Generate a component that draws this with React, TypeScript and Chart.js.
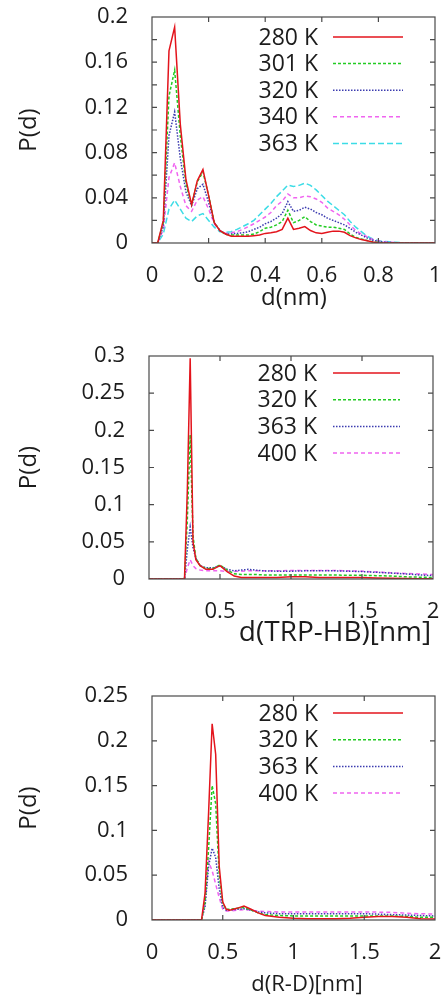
import React, { useEffect, useRef } from "react";
import { Chart, registerables } from "chart.js";

Chart.register(...registerables);

// ---------- Panel 1: d(nm) ----------
const xs1 = [0, 0.02, 0.04, 0.06, 0.08, 0.1, 0.12, 0.14, 0.16, 0.18, 0.2, 0.22, 0.24, 0.26, 0.28, 0.3, 0.32, 0.34, 0.36, 0.38, 0.4, 0.42, 0.44, 0.46, 0.48, 0.5, 0.52, 0.54, 0.56, 0.58, 0.6, 0.62, 0.64, 0.66, 0.68, 0.7, 0.72, 0.74, 0.76, 0.78, 0.8, 0.82, 0.84, 0.86, 0.88, 0.9, 0.92, 0.94, 0.96, 0.98, 1];
const p1_280 = [0, 0, 0.02, 0.17, 0.191, 0.105, 0.056, 0.034, 0.055, 0.065, 0.042, 0.018, 0.011, 0.008, 0.006, 0.006, 0.006, 0.006, 0.0065, 0.007, 0.0085, 0.009, 0.01, 0.012, 0.022, 0.012, 0.013, 0.0145, 0.011, 0.009, 0.0085, 0.0095, 0.0105, 0.0105, 0.0095, 0.0065, 0.0045, 0.003, 0.002, 0.0008, 0.0003, 0, 0, 0, 0, 0, 0, 0, 0, 0, 0];
const p1_301 = [0, 0, 0.018, 0.13, 0.153, 0.095, 0.052, 0.034, 0.054, 0.063, 0.042, 0.018, 0.011, 0.0075, 0.007, 0.007, 0.007, 0.007, 0.008, 0.01, 0.013, 0.014, 0.016, 0.019, 0.029, 0.018, 0.02, 0.0233, 0.019, 0.016, 0.015, 0.014, 0.014, 0.013, 0.012, 0.008, 0.005, 0.0035, 0.0022, 0.001, 0.0005, 0.0002, 0, 0, 0, 0, 0, 0, 0, 0, 0];
const p1_320 = [0, 0, 0.015, 0.095, 0.116, 0.075, 0.045, 0.033, 0.048, 0.052, 0.036, 0.018, 0.011, 0.008, 0.008, 0.0085, 0.009, 0.01, 0.012, 0.014, 0.017, 0.019, 0.022, 0.026, 0.0366, 0.028, 0.029, 0.0316, 0.03, 0.027, 0.025, 0.022, 0.02, 0.018, 0.016, 0.013, 0.0095, 0.007, 0.0045, 0.0025, 0.0015, 0.0008, 0.0004, 0.0002, 0, 0, 0, 0, 0, 0, 0];
const p1_340 = [0, 0, 0.012, 0.058, 0.071, 0.05, 0.033, 0.028, 0.038, 0.041, 0.03, 0.017, 0.011, 0.0085, 0.009, 0.01, 0.012, 0.0145, 0.017, 0.02, 0.023, 0.027, 0.033, 0.037, 0.0434, 0.04, 0.04, 0.0415, 0.041, 0.039, 0.036, 0.031, 0.028, 0.025, 0.021, 0.016, 0.011, 0.008, 0.0055, 0.003, 0.002, 0.0012, 0.0008, 0.0004, 0.0002, 0, 0, 0, 0, 0, 0];
const p1_363 = [0, 0, 0.008, 0.03, 0.038, 0.03, 0.022, 0.019, 0.024, 0.026, 0.02, 0.014, 0.01, 0.0095, 0.01, 0.012, 0.0145, 0.017, 0.02, 0.025, 0.03, 0.035, 0.041, 0.046, 0.0513, 0.05, 0.051, 0.053, 0.051, 0.047, 0.042, 0.037, 0.033, 0.029, 0.025, 0.019, 0.014, 0.01, 0.006, 0.0035, 0.002, 0.0013, 0.001, 0.0006, 0.0003, 0.0001, 0, 0, 0, 0, 0];
const labels1 = ["280 K", "301 K", "320 K", "340 K", "363 K"];

// ---------- Panel 2: d(TRP-HB)[nm] ----------
const xs2 = [0, 0.1, 0.2, 0.25, 0.27, 0.29, 0.31, 0.33, 0.36, 0.4, 0.45, 0.5, 0.55, 0.6, 0.65, 0.7, 0.75, 0.8, 0.9, 1.0, 1.1, 1.2, 1.3, 1.4, 1.5, 1.6, 1.7, 1.8, 1.9, 2.0];
const p2_280 = [0, 0, 0, 0, 0.12, 0.297, 0.05, 0.026, 0.018, 0.013, 0.013, 0.018, 0.01, 0.004, 0.002, 0.002, 0.002, 0.002, 0.002, 0.003, 0.003, 0.002, 0.002, 0.002, 0.002, 0.0015, 0.001, 0.0008, 0.0005, 0.0003];
const p2_320 = [0, 0, 0, 0, 0.08, 0.194, 0.058, 0.028, 0.018, 0.014, 0.014, 0.019, 0.012, 0.007, 0.006, 0.006, 0.006, 0.0055, 0.0055, 0.0055, 0.0055, 0.0055, 0.0055, 0.005, 0.005, 0.0045, 0.004, 0.003, 0.0025, 0.002];
const p2_363 = [0, 0, 0, 0, 0.04, 0.07, 0.042, 0.028, 0.018, 0.015, 0.015, 0.018, 0.013, 0.011, 0.012, 0.013, 0.012, 0.011, 0.0105, 0.0105, 0.011, 0.011, 0.011, 0.0105, 0.01, 0.009, 0.008, 0.007, 0.0055, 0.0045];
const p2_400 = [0, 0, 0, 0, 0.015, 0.026, 0.018, 0.014, 0.012, 0.011, 0.011, 0.011, 0.01, 0.01, 0.0105, 0.011, 0.011, 0.011, 0.011, 0.0115, 0.0115, 0.0115, 0.0115, 0.011, 0.0105, 0.0095, 0.0085, 0.0075, 0.0068, 0.006];
const labels2 = ["280 K", "320 K", "363 K", "400 K"];

// ---------- Panel 3: d(R-D)[nm] ----------
const xs3 = [0, 0.1, 0.2, 0.3, 0.35, 0.375, 0.4, 0.425, 0.45, 0.475, 0.5, 0.525, 0.55, 0.6, 0.65, 0.7, 0.75, 0.8, 0.9, 1.0, 1.1, 1.2, 1.3, 1.4, 1.5, 1.6, 1.7, 1.8, 1.9, 2.0];
const p3_280 = [0, 0, 0, 0, 0, 0.03, 0.12, 0.219, 0.185, 0.06, 0.02, 0.012, 0.011, 0.013, 0.0155, 0.012, 0.008, 0.005, 0.003, 0.002, 0.0015, 0.0015, 0.0015, 0.002, 0.003, 0.004, 0.004, 0.003, 0.0015, 0.001];
const p3_320 = [0, 0, 0, 0, 0, 0.02, 0.08, 0.15, 0.13, 0.05, 0.018, 0.012, 0.012, 0.013, 0.014, 0.011, 0.008, 0.006, 0.005, 0.0045, 0.0045, 0.0045, 0.0045, 0.0045, 0.0045, 0.0045, 0.0045, 0.004, 0.003, 0.003];
const p3_363 = [0, 0, 0, 0, 0, 0.015, 0.06, 0.08, 0.07, 0.035, 0.014, 0.011, 0.011, 0.012, 0.0125, 0.011, 0.009, 0.008, 0.007, 0.007, 0.007, 0.007, 0.007, 0.007, 0.007, 0.0065, 0.006, 0.0055, 0.005, 0.0045];
const p3_400 = [0, 0, 0, 0, 0, 0.02, 0.065, 0.055, 0.04, 0.025, 0.012, 0.01, 0.01, 0.011, 0.0115, 0.011, 0.01, 0.0095, 0.009, 0.009, 0.009, 0.009, 0.009, 0.009, 0.009, 0.0088, 0.0085, 0.0075, 0.007, 0.0065];
const labels3 = ["280 K", "320 K", "363 K", "400 K"];

// ---------- styles ----------
const FONT = '"Open Sans", "Noto Sans", sans-serif';
const TEXT = "#1c1c1c";
const STY = {
  red: { color: "#e3141c", dash: [] as number[] },
  green: { color: "#22cc22", dash: [3, 2] },
  blue: { color: "#3c3cb0", dash: [1.5, 1.5] },
  magenta: { color: "#f064f0", dash: [4, 3] },
  cyan: { color: "#3cdce6", dash: [6, 3] },
};

const fmt = (v: number) => String(Number(Number(v).toFixed(3)));

const boxPlugin = {
  id: "gnuBox",
  afterDraw(chart: any, _args: any, opts: any) {
    const { ctx, chartArea: a, scales } = chart;
    ctx.save();
    ctx.strokeStyle = "#4a4a4a";
    ctx.lineWidth = 1.2;
    ctx.setLineDash([]);
    ctx.strokeRect(a.left, a.top, a.right - a.left, a.bottom - a.top);
    const L = 5;
    ctx.beginPath();
    for (const t of scales.x.ticks) {
      const px = scales.x.getPixelForValue(t.value);
      if (px <= a.left + 1 || px >= a.right - 1) continue;
      ctx.moveTo(px, a.bottom);
      ctx.lineTo(px, a.bottom - L);
      ctx.moveTo(px, a.top);
      ctx.lineTo(px, a.top + L);
    }
    for (const t of scales.y.ticks) {
      const py = scales.y.getPixelForValue(t.value);
      if (py <= a.top + 1 || py >= a.bottom - 1) continue;
      ctx.moveTo(a.left, py);
      ctx.lineTo(a.left + L, py);
      ctx.moveTo(a.right, py);
      ctx.lineTo(a.right - L, py);
    }
    ctx.stroke();

    // x-axis title
    const xt = opts.xTitle;
    ctx.font = `${xt.size}px ${FONT}`;
    ctx.textAlign = "center";
    ctx.textBaseline = "middle";
    ctx.fillStyle = TEXT;
    ctx.fillText(xt.text, xt.cx, xt.cy);

    // legend: text right-aligned, sample line to the right
    const lg = opts.legend;
    ctx.font = `${lg.fontSize}px ${FONT}`;
    ctx.textAlign = "right";
    chart.data.datasets.forEach((d: any, i: number) => {
      const y = a.top + lg.firstRow + i * lg.rowGap;
      ctx.fillText(d.label, a.right - lg.textRight, y + 1);
      ctx.save();
      ctx.strokeStyle = d.borderColor;
      ctx.lineWidth = d.borderWidth;
      ctx.setLineDash(d.borderDash || []);
      ctx.beginPath();
      ctx.moveTo(a.right - lg.lineStart, y);
      ctx.lineTo(a.right - lg.lineEnd, y);
      ctx.stroke();
      ctx.restore();
    });
    ctx.restore();
  },
};

type PanelDef = {
  xs: number[];
  series: { label: string; values: number[]; sty: { color: string; dash: number[] } }[];
  xMax: number; xStep: number; yMax: number; yStep: number; yLabelEvery: number;
  xTitle: { text: string; cx: number; cy: number; size: number };
  padTop: number; padRight: number; yAxisW: number; xAxisH: number;
  xTickPad: number;
  legend: { firstRow: number; rowGap: number; textRight: number; lineStart: number; lineEnd: number; fontSize: number };
};

function buildConfig(p: PanelDef): any {
  return {
    type: "line",
    data: {
      datasets: p.series.map((s) => ({
        label: s.label,
        data: p.xs.map((x, i) => ({ x, y: s.values[i] })),
        borderColor: s.sty.color,
        borderDash: s.sty.dash,
        borderWidth: 1.5,
        pointRadius: 0,
        fill: false,
        tension: 0,
      })),
    },
    options: {
      responsive: false,
      animation: false,
      events: [],
      layout: { padding: { top: p.padTop, right: p.padRight, left: 0, bottom: 0 } },
      plugins: {
        legend: { display: false },
        tooltip: { enabled: false },
        gnuBox: { legend: p.legend, xTitle: p.xTitle },
      },
      scales: {
        x: {
          type: "linear",
          min: 0,
          max: p.xMax,
          grid: { display: false },
          border: { display: false },
          ticks: {
            stepSize: p.xStep,
            autoSkip: false,
            maxRotation: 0,
            padding: p.xTickPad,
            color: TEXT,
            font: { family: FONT, size: 22, lineHeight: 1.2 },
            callback: (v: number) => fmt(v),
          },
          title: { display: false },
          afterFit: (s: any) => {
            s.height = p.xAxisH;
            s.paddingLeft = 0;
            s.paddingRight = 0;
          },
        },
        y: {
          type: "linear",
          min: 0,
          max: p.yMax,
          grid: { display: false },
          border: { display: false },
          ticks: {
            stepSize: p.yStep,
            autoSkip: false,
            padding: 16,
            color: TEXT,
            font: { family: FONT, size: 22, lineHeight: 1.2 },
            callback: (v: number) => (Math.round(v / p.yStep) % p.yLabelEvery === 0 ? fmt(v) : ""),
          },
          title: {
            display: true,
            text: "P(d)",
            color: TEXT,
            font: { family: FONT, size: 24, lineHeight: 1.2 },
            padding: { top: 15, bottom: 0 },
          },
          afterFit: (s: any) => {
            s.width = p.yAxisW;
            s.paddingTop = 0;
            s.paddingBottom = 0;
          },
        },
      },
    },
    plugins: [boxPlugin],
  };
}

const panel1: PanelDef = {
  xs: xs1,
  series: [
    { label: labels1[0], values: p1_280, sty: STY.red },
    { label: labels1[1], values: p1_301, sty: STY.green },
    { label: labels1[2], values: p1_320, sty: STY.blue },
    { label: labels1[3], values: p1_340, sty: STY.magenta },
    { label: labels1[4], values: p1_363, sty: STY.cyan },
  ],
  xMax: 1, xStep: 0.2, yMax: 0.2, yStep: 0.02, yLabelEvery: 2,
  xTitle: { text: "d(nm)", cx: 294, cy: 298, size: 24 },
  padTop: 17, padRight: 10, yAxisW: 152, xAxisH: 87,
  xTickPad: 12,
  legend: { firstRow: 20, rowGap: 26.6, textRight: 117, lineStart: 102, lineEnd: 32, fontSize: 23 },
};

const panel2: PanelDef = {
  xs: xs2,
  series: [
    { label: labels2[0], values: p2_280, sty: STY.red },
    { label: labels2[1], values: p2_320, sty: STY.green },
    { label: labels2[2], values: p2_363, sty: STY.blue },
    { label: labels2[3], values: p2_400, sty: STY.magenta },
  ],
  xMax: 2, xStep: 0.5, yMax: 0.3, yStep: 0.05, yLabelEvery: 1,
  xTitle: { text: "d(TRP-HB)[nm]", cx: 335, cy: 303, size: 28 },
  padTop: 26, padRight: 12, yAxisW: 149, xAxisH: 86,
  xTickPad: 12,
  legend: { firstRow: 17, rowGap: 26.7, textRight: 116, lineStart: 100, lineEnd: 33, fontSize: 23 },
};

const panel3: PanelDef = {
  xs: xs3,
  series: [
    { label: labels3[0], values: p3_280, sty: STY.red },
    { label: labels3[1], values: p3_320, sty: STY.green },
    { label: labels3[2], values: p3_363, sty: STY.blue },
    { label: labels3[3], values: p3_400, sty: STY.magenta },
  ],
  xMax: 2, xStep: 0.5, yMax: 0.25, yStep: 0.05, yLabelEvery: 1,
  xTitle: { text: "d(R-D)[nm]", cx: 307, cy: 320, size: 22 },
  padTop: 31, padRight: 10, yAxisW: 152, xAxisH: 85,
  xTickPad: 12,
  legend: { firstRow: 17, rowGap: 26.7, textRight: 117, lineStart: 102, lineEnd: 32, fontSize: 23 },
};

function Panel({ def, top, height }: { def: PanelDef; top: number; height: number }) {
  const ref = useRef<HTMLCanvasElement>(null);
  useEffect(() => {
    let chart: any = null;
    let cancelled = false;
    const make = () => {
      if (cancelled || !ref.current) return;
      chart = new Chart(ref.current, buildConfig(def));
    };
    const fonts: any = (document as any).fonts;
    if (fonts && fonts.load) {
      Promise.all([fonts.load(`22px ${FONT}`), fonts.load(`24px ${FONT}`)]).then(make, make);
    } else {
      make();
    }
    return () => {
      cancelled = true;
      if (chart) chart.destroy();
    };
  }, [def]);
  return (
    <canvas
      ref={ref}
      width={445}
      height={height}
      style={{ position: "absolute", left: 0, top, width: 445, height, display: "block" }}
    />
  );
}

export default function App() {
  return (
    <div style={{ position: "absolute", left: 0, top: 0, width: 445, height: 1005, background: "#ffffff", overflow: "hidden" }}>
      <Panel def={panel1} top={0} height={330} />
      <Panel def={panel2} top={330} height={335} />
      <Panel def={panel3} top={665} height={340} />
    </div>
  );
}
